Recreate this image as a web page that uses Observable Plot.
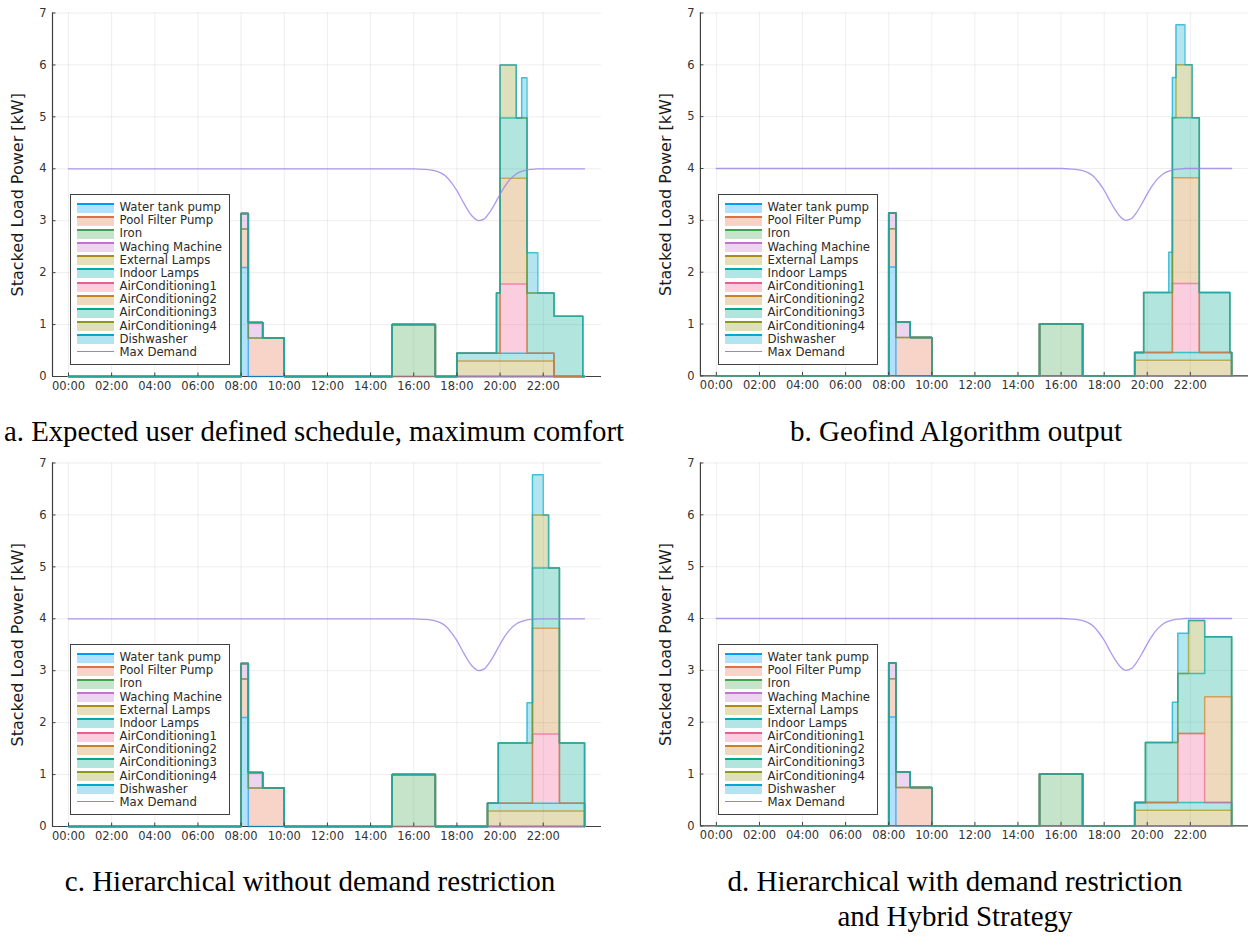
<!DOCTYPE html>
<html>
<head>
<meta charset="utf-8">
<script src="https://cdn.jsdelivr.net/npm/d3@7"></script>
<script src="https://cdn.jsdelivr.net/npm/@observablehq/plot@0.6"></script>
<style>
  html, body { margin: 0; padding: 0; background: #fff; }
  body { width: 1256px; height: 936px; position: relative; overflow: hidden; font-family: "DejaVu Sans", sans-serif; }
  .panel { position: absolute; }
  .legend { position: absolute; box-sizing: border-box; border: 1px solid #404040; background: #fff; width: 160px; height: 171px; }
  .row { position: absolute; left: 0; height: 13px; width: 100%; }
  .sw { position: absolute; left: 6px; top: 1.5px; width: 37px; height: 10px; box-sizing: border-box; border-top: 2px solid; }
  .ln { position: absolute; left: 6px; top: 5.5px; width: 37px; height: 0; border-top: 1.8px solid; }
  .lt { position: absolute; left: 48.5px; top: -1px; font-size: 11.7px; line-height: 15px; color: #2a2a2a; white-space: nowrap; }
  #captions { position: absolute; left: 0; top: 0; }
</style>
</head>
<body>
<script>
// ---- data ----
const appliances = ["Water tank pump", "Pool Filter Pump", "Iron", "Waching Machine", "External Lamps", "Indoor Lamps",
  "AirConditioning1", "AirConditioning2", "AirConditioning3", "AirConditioning4", "Dishwasher"];
const colors = ["#009AFA", "#E36F47", "#3EA44E", "#C371D2", "#AC8D18", "#00A9AD", "#ED5E93", "#C68225", "#00A98D", "#8E971E", "#00A9CD"];
const demandName = "Max Demand";
const demandColor = "#9B7FE9";
const powerKW = [2.1, 0.74, 1.0, 0.3, 0.3, 0.15, 1.33, 2.04, 1.16, 1.02, 0.775];

const startA = ["08:00", "08:00", "15:00", "08:00", "18:00", "18:00", "20:00", "20:00", "19:50", "20:00", "21:00"];
const endA   = ["08:20", "10:00", "17:00", "09:00", "22:30", "22:30", "21:15", "21:15", "23:50", "20:45", "21:45"];
const startB = ["08:00", "08:00", "15:00", "08:00", "19:25", "19:25", "21:10", "21:10", "19:50", "21:20", "21:00"];
const endB   = ["08:20", "10:00", "17:00", "09:00", "23:55", "23:55", "22:25", "22:25", "23:50", "22:05", "21:45"];
const startC = ["08:00", "08:00", "15:00", "08:00", "19:25", "19:25", "21:30", "21:30", "19:55", "21:30", "21:15"];
const endC   = ["08:20", "10:00", "17:00", "09:00", "23:55", "23:55", "22:45", "22:45", "23:55", "22:15", "22:00"];
const startD = ["08:00", "08:00", "15:00", "08:00", "19:25", "19:25", "21:25", "22:40", "19:55", "21:55", "21:10"];
const endD   = ["08:20", "10:00", "17:00", "09:00", "23:55", "23:55", "22:40", "23:55", "23:55", "22:40", "21:55"];

const demandTime = ["00:00", "16:00", "16:30", "16:45", "17:00", "17:15", "17:30", "17:45", "18:00", "18:15", "18:30", "18:45",
  "19:00", "19:15", "19:30", "19:45", "20:00", "20:15", "20:30", "20:45", "21:00", "21:15", "21:30", "21:45", "23:55"];
const demandKW = [4.0, 4.0, 3.99, 3.98, 3.96, 3.92, 3.85, 3.73, 3.58, 3.39, 3.21, 3.07,
  3.0, 3.03, 3.15, 3.32, 3.51, 3.68, 3.81, 3.9, 3.95, 3.98, 3.99, 4.0, 4.0];

const dayStart = "00:00";
const dayEnd = "23:55";
const xTickLabels = ["00:00", "02:00", "04:00", "06:00", "08:00", "10:00", "12:00", "14:00", "16:00", "18:00", "20:00", "22:00"];
const yTicks = [0, 1, 2, 3, 4, 5, 6, 7];
const yTickLabels = ["0", "1", "2", "3", "4", "5", "6", "7"];
const yLabel = "Stacked Load Power [kW]";
const captionA = "a. Expected user defined schedule, maximum comfort";
const captionB = "b. Geofind Algorithm output";
const captionC = "c. Hierarchical without demand restriction";
const captionD1 = "d. Hierarchical with demand restriction";
const captionD2 = "and Hybrid Strategy";

// ---- helpers ----
const hrs = s => { const [H, M] = s.split(":").map(Number); return H + M / 60; };
const xTickHours = xTickLabels.map(hrs);
const xDomain = [-0.74, 24.7];
const yDomain = [0, 7];
const demand = demandTime.map((t, i) => ({t: hrs(t), kw: demandKW[i]}));

const W = 609, H = 404, mL = 52, mR = 8, mT = 12.5, mB = 28;
const frameW = W - mL - mR, frameH = H - mT - mB;

function buildRows(starts, ends) {
  const times = new Set([hrs(dayStart), hrs(dayEnd)]);
  starts.forEach(s => times.add(hrs(s)));
  ends.forEach(e => times.add(hrs(e)));
  const grid = [...times].sort((a, b) => a - b);
  const rows = [];
  appliances.forEach((name, i) => {
    const s = hrs(starts[i]), e = hrs(ends[i]);
    grid.forEach(t => rows.push({name, t, kw: (t >= s && t < e) ? powerKW[i] : 0}));
  });
  return rows;
}

function makePanel(starts, ends, left, top) {
  const rows = buildRows(starts, ends);
  const chart = Plot.plot({
    width: W, height: H, marginLeft: mL, marginRight: mR, marginTop: mT, marginBottom: mB,
    style: {fontFamily: "DejaVu Sans, sans-serif", fontSize: "11.5px", color: "#333", background: "transparent", overflow: "visible"},
    x: {domain: xDomain, label: null, axis: null},
    y: {domain: yDomain, label: null, axis: null},
    color: {domain: appliances, range: colors},
    marks: [
      Plot.gridX(xTickHours, {stroke: "#000", strokeOpacity: 0.07, strokeWidth: 1}),
      Plot.gridY(yTicks, {stroke: "#000", strokeOpacity: 0.07, strokeWidth: 1}),
      Plot.ruleY(yDomain.slice(0, 1), {stroke: "#404040", strokeWidth: 1.2}),
      Plot.ruleX(xDomain.slice(0, 1), {stroke: "#404040", strokeWidth: 1.2}),
      Plot.areaY(rows, {x: "t", y: "kw", z: "name", fill: "name", fillOpacity: 0.3, order: appliances, curve: "step-after"}),
      Plot.lineY(rows, Plot.stackY2({x: "t", y: "kw", z: "name", stroke: "name", order: appliances, curve: "step-after",
        strokeWidth: 1.5, strokeOpacity: 0.65})),
      Plot.lineY(demand, {x: "t", y: "kw", stroke: demandColor, strokeWidth: 1.3, strokeOpacity: 0.8, curve: "monotone-x"}),
      Plot.tickX(xTickHours, {x: d => d, stroke: "#404040", strokeWidth: 1, insetTop: frameH - 3.5}),
      Plot.tickY(yTicks, {y: d => d, stroke: "#404040", strokeWidth: 1, insetRight: frameW - 3.5}),
      Plot.axisX(xTickHours, {tickSize: 0, tickPadding: 5, tickFormat: d => xTickLabels[xTickHours.indexOf(d)], fill: "#333", label: null}),
      Plot.axisY(yTicks, {tickSize: 0, tickPadding: 6, tickFormat: d => yTickLabels[yTicks.indexOf(d)], fill: "#333", label: null}),
      Plot.text([yLabel], {frameAnchor: "left", rotate: -90, dx: -34.5, fontSize: 16, fill: "#1a1a1a", textAnchor: "middle"})
    ]
  });
  const wrap = document.createElement("div");
  wrap.className = "panel";
  wrap.style.left = left + "px";
  wrap.style.top = top + "px";
  wrap.appendChild(chart);
  document.body.appendChild(wrap);

  // legend (inside plot frame, bottom-left)
  const lg = document.createElement("div");
  lg.className = "legend";
  lg.style.left = (left + mL + 18) + "px";
  lg.style.top = (top + 193.5) + "px";
  const entries = appliances.map((n, i) => ({n, c: colors[i], area: true})).concat([{n: demandName, c: demandColor, area: false}]);
  entries.forEach((e, i) => {
    const r = document.createElement("div");
    r.className = "row";
    r.style.top = (6.5 + i * 13.18) + "px";
    const s = document.createElement("div");
    if (e.area) {
      s.className = "sw";
      s.style.borderTopColor = e.c;
      s.style.background = d3.color(e.c).copy({opacity: 0.3}).toString();
    } else {
      s.className = "ln";
      s.style.borderTopColor = e.c;
    }
    const t = document.createElement("div");
    t.className = "lt";
    t.textContent = e.n;
    r.appendChild(s); r.appendChild(t);
    lg.appendChild(r);
  });
  document.body.appendChild(lg);
}

makePanel(startA, endA, 0, 0);
makePanel(startB, endB, 648, 0);
makePanel(startC, endC, 0, 450);
makePanel(startD, endD, 648, 450);

// captions
const svgNS = "http://www.w3.org/2000/svg";
const cap = document.createElementNS(svgNS, "svg");
cap.setAttribute("id", "captions");
cap.setAttribute("width", 1256);
cap.setAttribute("height", 936);
cap.style.pointerEvents = "none";
function addCaption(txt, x, y, len) {
  const t = document.createElementNS(svgNS, "text");
  t.setAttribute("x", x); t.setAttribute("y", y);
  t.setAttribute("text-anchor", "middle");
  t.setAttribute("font-family", "Liberation Serif, Times New Roman, serif");
  t.setAttribute("font-size", 29);
  t.setAttribute("fill", "#000");
  if (len) { t.setAttribute("textLength", len); t.setAttribute("lengthAdjust", "spacingAndGlyphs"); }
  t.textContent = txt;
  cap.appendChild(t);
}
addCaption(captionA, 314, 441, 620);
addCaption(captionB, 956, 441);
addCaption(captionC, 310, 891);
addCaption(captionD1, 955, 891);
addCaption(captionD2, 955, 926);
document.body.appendChild(cap);
</script>
</body>
</html>
